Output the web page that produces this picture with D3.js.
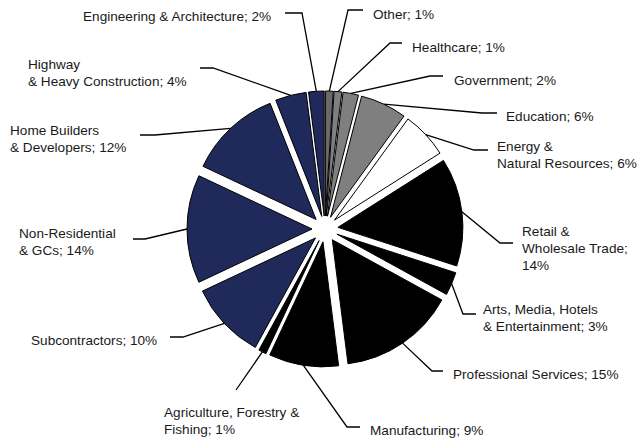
<!DOCTYPE html>
<html>
<head>
<meta charset="utf-8">
<script src="https://cdn.jsdelivr.net/npm/d3@7"></script>
<style>
  html, body { margin: 0; padding: 0; background: #fff; }
  svg { display: block; }
  text { font-family: "Liberation Sans", Arial, sans-serif; font-size: 13.6px; fill: #1a1a1a; }
</style>
</head>
<body>
<svg id="chart" width="642" height="439"></svg>
<script>
// Customer mix by industry, clockwise from 12 o'clock
const categories = [
  "Other", "Healthcare", "Government", "Education", "Energy & Natural Resources",
  "Retail & Wholesale Trade", "Arts, Media, Hotels & Entertainment", "Professional Services",
  "Manufacturing", "Agriculture, Forestry & Fishing", "Subcontractors",
  "Non-Residential & GCs", "Home Builders & Developers", "Highway & Heavy Construction",
  "Engineering & Architecture"
];
const shares = [1, 1, 2, 6, 6, 14, 3, 15, 9, 1, 10, 14, 12, 4, 2];

// Label text, one entry per line
const labelLines = [
  ["Other; 1%"],
  ["Healthcare; 1%"],
  ["Government; 2%"],
  ["Education; 6%"],
  ["Energy &", "Natural Resources; 6%"],
  ["Retail &", "Wholesale Trade;", "14%"],
  ["Arts, Media, Hotels", "& Entertainment; 3%"],
  ["Professional Services; 15%"],
  ["Manufacturing; 9%"],
  ["Agriculture, Forestry &", "Fishing; 1%"],
  ["Subcontractors; 10%"],
  ["Non-Residential", "& GCs; 14%"],
  ["Home Builders", "& Developers; 12%"],
  ["Highway", "& Heavy Construction; 4%"],
  ["Engineering & Architecture; 2%"]
];

// Fill by sector group
const fills = [
  "#6a6a6a", "#7f7f7f", "#7f7f7f", "#7f7f7f", "#ffffff",
  "#000000", "#000000", "#000000", "#000000", "#000000",
  "#1f295a", "#1f295a", "#1f295a", "#1f295a", "#1f295a"
];

// Label layout: text x, first-line centre y, leader elbow [x,y], leader end x
const labelLayout = [
  { tx: 373, ty: 14,  elbow: [348, 10],  end: 363 },
  { tx: 412, ty: 47,  elbow: [390, 43],  end: 402 },
  { tx: 454, ty: 80,  elbow: [430, 76],  end: 443 },
  { tx: 506, ty: 116, elbow: [482, 113], end: 497 },
  { tx: 497, ty: 146, elbow: [474, 150], end: 488 },
  { tx: 522, ty: 231, elbow: [500, 243], end: 513 },
  { tx: 483, ty: 309, elbow: [463, 314], end: 476 },
  { tx: 453, ty: 374, elbow: [432, 371], end: 443 },
  { tx: 370, ty: 430, elbow: [347, 427], end: 360 },
  { tx: 164, ty: 412, elbow: [236, 390], end: 236 },
  { tx: 31,  ty: 340, elbow: [183, 337], end: 170 },
  { tx: 19,  ty: 233, elbow: [145, 239], end: 133 },
  { tx: 10,  ty: 130, elbow: [155, 135], end: 140 },
  { tx: 28,  ty: 64,  elbow: [213, 68],  end: 200 },
  { tx: 83,  ty: 16,  elbow: [302, 13],  end: 285 }
];

const cx = 325, cy = 229, radius = 125, explode = 13, lineGap = 17;

const svg = d3.select("#chart");

const color = d3.scaleOrdinal().domain(categories).range(fills);

const pie = d3.pie().value(d => d.share).sort(null).startAngle(0).endAngle(2 * Math.PI);
const arc = d3.arc().innerRadius(0).outerRadius(radius);

const rows = categories.map((c, i) => ({ name: c, share: shares[i], lines: labelLines[i], layout: labelLayout[i] }));
const slices = pie(rows);

const midAngle = s => (s.startAngle + s.endAngle) / 2;

const g = svg.append("g").attr("transform", `translate(${cx},${cy})`);

// Exploded wedges
g.selectAll("path.slice")
  .data(slices)
  .join("path")
  .attr("class", "slice")
  .attr("transform", s => {
    const a = midAngle(s);
    return `translate(${explode * Math.sin(a)},${-explode * Math.cos(a)})`;
  })
  .attr("d", arc)
  .attr("fill", s => color(s.data.name))
  .attr("stroke", "#000")
  .attr("stroke-width", 1)
  .attr("stroke-linejoin", "miter");

// Leader lines from each wedge's outer edge
svg.selectAll("polyline.leader")
  .data(slices)
  .join("polyline")
  .attr("class", "leader")
  .attr("points", s => {
    const a = midAngle(s);
    const rr = radius + explode;
    const x0 = cx + rr * Math.sin(a), y0 = cy - rr * Math.cos(a);
    const L = s.data.layout;
    return [[x0, y0], L.elbow, [L.end, L.elbow[1]]].map(p => p.join(",")).join(" ");
  })
  .attr("fill", "none")
  .attr("stroke", "#000")
  .attr("stroke-width", 1.3);

// Category labels
const labels = svg.selectAll("text.label")
  .data(slices)
  .join("text")
  .attr("class", "label")
  .attr("x", s => s.data.layout.tx)
  .attr("y", s => s.data.layout.ty);

labels.selectAll("tspan")
  .data(s => s.data.lines.map((t, i) => ({ t, i, x: s.data.layout.tx, y: s.data.layout.ty })))
  .join("tspan")
  .attr("x", d => d.x)
  .attr("y", d => d.y + d.i * lineGap)
  .attr("dy", "0.35em")
  .text(d => d.t);
</script>
</body>
</html>
